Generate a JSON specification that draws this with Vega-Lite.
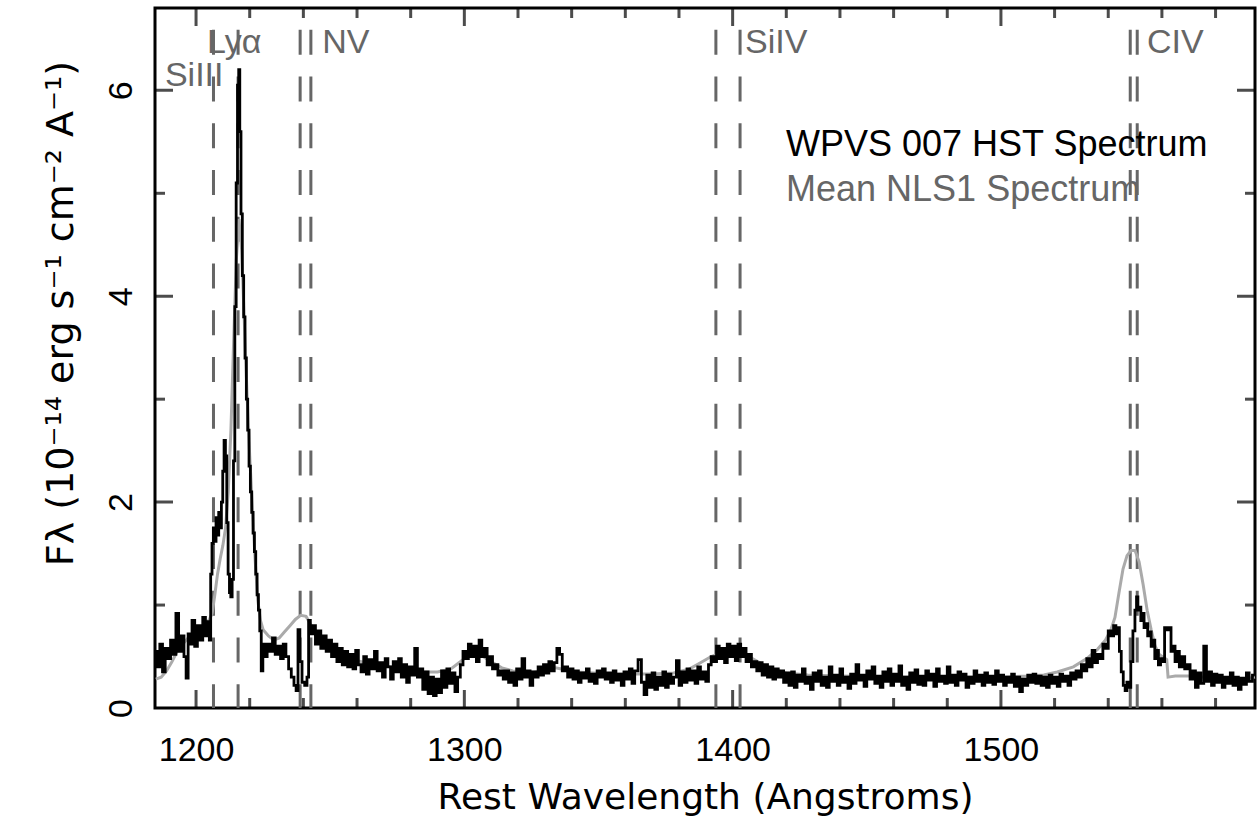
{
  "$schema": "https://vega.github.io/schema/vega-lite/v6.json",
  "width": 1100,
  "height": 700,
  "autosize": "none",
  "padding": {"left": 155, "top": 8, "right": 2, "bottom": 109},
  "background": "white",
  "config": {"view": {"stroke": "black", "strokeWidth": 3}},
  "datasets": {
    "black": [
      {"w":1185,"f":0.55},{"w":1186,"f":0.40},{"w":1187,"f":0.62},{"w":1188,"f":0.35},{"w":1189,"f":0.58},{"w":1190,"f":0.48},{"w":1191,"f":0.66},{"w":1192,"f":0.52},{"w":1193,"f":0.92},{"w":1194,"f":0.55},{"w":1195,"f":0.70},{"w":1196,"f":0.50},{"w":1196.6,"f":0.29},{"w":1197.5,"f":0.72},{"w":1198,"f":0.62},{"w":1199,"f":0.85},{"w":1200,"f":0.60},{"w":1201,"f":0.80},{"w":1202,"f":0.66},{"w":1203,"f":0.88},{"w":1204,"f":0.70},{"w":1204.7,"f":0.84},{"w":1205.2,"f":0.66},{"w":1205.7,"f":1.30},{"w":1206.2,"f":1.60},{"w":1206.7,"f":1.75},{"w":1207.2,"f":1.62},{"w":1207.7,"f":1.85},{"w":1208.2,"f":1.68},{"w":1208.7,"f":1.90},{"w":1209.2,"f":1.75},{"w":1209.7,"f":2.00},{"w":1210.2,"f":2.30},{"w":1210.7,"f":2.60},{"w":1211.2,"f":2.45},{"w":1211.7,"f":1.80},{"w":1212.2,"f":1.30},{"w":1212.7,"f":1.12},{"w":1213.2,"f":1.08},{"w":1213.7,"f":1.25},{"w":1214.2,"f":2.40},{"w":1214.7,"f":3.90},{"w":1215.2,"f":5.10},{"w":1215.7,"f":6.05},{"w":1216.1,"f":6.20},{"w":1216.5,"f":5.60},{"w":1217,"f":4.80},{"w":1217.5,"f":4.20},{"w":1218,"f":3.80},{"w":1218.5,"f":3.40},{"w":1219,"f":3.00},{"w":1219.5,"f":2.70},{"w":1220,"f":2.35},{"w":1220.5,"f":2.10},{"w":1221,"f":1.90},{"w":1221.5,"f":1.70},{"w":1222,"f":1.52},{"w":1222.5,"f":1.30},{"w":1223,"f":1.10},{"w":1223.5,"f":0.95},{"w":1224,"f":0.75},{"w":1224.6,"f":0.36},{"w":1225.2,"f":0.62},{"w":1226,"f":0.50},{"w":1227,"f":0.62},{"w":1228,"f":0.55},{"w":1229,"f":0.68},{"w":1230,"f":0.52},{"w":1231,"f":0.60},{"w":1232,"f":0.48},{"w":1233,"f":0.62},{"w":1234,"f":0.50},{"w":1235,"f":0.38},{"w":1236,"f":0.30},{"w":1237,"f":0.22},{"w":1237.6,"f":0.17},{"w":1238.4,"f":0.76},{"w":1239,"f":0.45},{"w":1240,"f":0.25},{"w":1241,"f":0.22},{"w":1241.7,"f":0.30},{"w":1242.2,"f":0.85},{"w":1243,"f":0.72},{"w":1244,"f":0.80},{"w":1245,"f":0.62},{"w":1246,"f":0.75},{"w":1247,"f":0.58},{"w":1248,"f":0.70},{"w":1249,"f":0.55},{"w":1250,"f":0.66},{"w":1251,"f":0.50},{"w":1252,"f":0.62},{"w":1253,"f":0.45},{"w":1254,"f":0.58},{"w":1255,"f":0.42},{"w":1256,"f":0.55},{"w":1257,"f":0.40},{"w":1258,"f":0.52},{"w":1259,"f":0.38},{"w":1260,"f":0.56},{"w":1261,"f":0.42},{"w":1262,"f":0.35},{"w":1263,"f":0.50},{"w":1264,"f":0.33},{"w":1265,"f":0.47},{"w":1266,"f":0.38},{"w":1267,"f":0.55},{"w":1268,"f":0.36},{"w":1269,"f":0.44},{"w":1270,"f":0.30},{"w":1271,"f":0.48},{"w":1272,"f":0.40},{"w":1273,"f":0.28},{"w":1274,"f":0.45},{"w":1275,"f":0.35},{"w":1276,"f":0.48},{"w":1277,"f":0.30},{"w":1278,"f":0.42},{"w":1279,"f":0.25},{"w":1280,"f":0.40},{"w":1281,"f":0.32},{"w":1282,"f":0.58},{"w":1283,"f":0.30},{"w":1284,"f":0.38},{"w":1285,"f":0.18},{"w":1286,"f":0.35},{"w":1287,"f":0.14},{"w":1288,"f":0.30},{"w":1289,"f":0.12},{"w":1290,"f":0.28},{"w":1291,"f":0.15},{"w":1292,"f":0.36},{"w":1293,"f":0.20},{"w":1294,"f":0.38},{"w":1295,"f":0.24},{"w":1296,"f":0.34},{"w":1297,"f":0.16},{"w":1298,"f":0.30},{"w":1299,"f":0.42},{"w":1300,"f":0.55},{"w":1301,"f":0.48},{"w":1302,"f":0.62},{"w":1303,"f":0.50},{"w":1304,"f":0.60},{"w":1305,"f":0.45},{"w":1306,"f":0.66},{"w":1307,"f":0.50},{"w":1308,"f":0.58},{"w":1309,"f":0.42},{"w":1310,"f":0.50},{"w":1311,"f":0.38},{"w":1312,"f":0.42},{"w":1313,"f":0.32},{"w":1314,"f":0.36},{"w":1315,"f":0.28},{"w":1316,"f":0.36},{"w":1317,"f":0.25},{"w":1318,"f":0.34},{"w":1319,"f":0.22},{"w":1320,"f":0.38},{"w":1321,"f":0.28},{"w":1322,"f":0.48},{"w":1323,"f":0.30},{"w":1324,"f":0.36},{"w":1325,"f":0.22},{"w":1326,"f":0.35},{"w":1327,"f":0.30},{"w":1328,"f":0.40},{"w":1329,"f":0.32},{"w":1330,"f":0.42},{"w":1331,"f":0.34},{"w":1332,"f":0.45},{"w":1333,"f":0.36},{"w":1334,"f":0.44},{"w":1335,"f":0.58},{"w":1336,"f":0.52},{"w":1337,"f":0.36},{"w":1338,"f":0.40},{"w":1339,"f":0.30},{"w":1340,"f":0.38},{"w":1341,"f":0.28},{"w":1342,"f":0.36},{"w":1343,"f":0.25},{"w":1344,"f":0.34},{"w":1345,"f":0.29},{"w":1346,"f":0.38},{"w":1347,"f":0.26},{"w":1348,"f":0.33},{"w":1349,"f":0.24},{"w":1350,"f":0.36},{"w":1351,"f":0.30},{"w":1352,"f":0.38},{"w":1353,"f":0.28},{"w":1354,"f":0.34},{"w":1355,"f":0.25},{"w":1356,"f":0.36},{"w":1357,"f":0.27},{"w":1358,"f":0.33},{"w":1359,"f":0.22},{"w":1360,"f":0.35},{"w":1361,"f":0.28},{"w":1362,"f":0.38},{"w":1363,"f":0.24},{"w":1364,"f":0.36},{"w":1365.5,"f":0.47},{"w":1366.5,"f":0.25},{"w":1367.5,"f":0.13},{"w":1368.5,"f":0.32},{"w":1369.5,"f":0.20},{"w":1370.5,"f":0.34},{"w":1371.5,"f":0.18},{"w":1372.5,"f":0.30},{"w":1373.5,"f":0.22},{"w":1374.5,"f":0.35},{"w":1375.5,"f":0.20},{"w":1376.5,"f":0.33},{"w":1377.5,"f":0.24},{"w":1378.5,"f":0.30},{"w":1379.6,"f":0.46},{"w":1380.5,"f":0.22},{"w":1381.5,"f":0.35},{"w":1382.5,"f":0.25},{"w":1383.5,"f":0.38},{"w":1384.5,"f":0.27},{"w":1385.5,"f":0.36},{"w":1386.5,"f":0.24},{"w":1387.5,"f":0.40},{"w":1388.5,"f":0.28},{"w":1389.5,"f":0.35},{"w":1390.5,"f":0.26},{"w":1391.5,"f":0.42},{"w":1392.5,"f":0.50},{"w":1393.5,"f":0.45},{"w":1394.5,"f":0.60},{"w":1395.5,"f":0.48},{"w":1396.5,"f":0.58},{"w":1397.5,"f":0.44},{"w":1398.5,"f":0.62},{"w":1399.5,"f":0.50},{"w":1400.5,"f":0.60},{"w":1401.5,"f":0.46},{"w":1402.5,"f":0.62},{"w":1403.5,"f":0.50},{"w":1404.5,"f":0.58},{"w":1405.5,"f":0.45},{"w":1406.5,"f":0.52},{"w":1407.5,"f":0.40},{"w":1408.5,"f":0.45},{"w":1409.5,"f":0.36},{"w":1410.5,"f":0.44},{"w":1411.5,"f":0.32},{"w":1412.5,"f":0.42},{"w":1413.5,"f":0.30},{"w":1414.5,"f":0.40},{"w":1415.5,"f":0.28},{"w":1416.5,"f":0.38},{"w":1417.5,"f":0.30},{"w":1418.5,"f":0.36},{"w":1419.5,"f":0.25},{"w":1420.5,"f":0.34},{"w":1421.5,"f":0.22},{"w":1422.5,"f":0.35},{"w":1423.5,"f":0.20},{"w":1424.5,"f":0.32},{"w":1425.5,"f":0.26},{"w":1426.5,"f":0.38},{"w":1427.5,"f":0.24},{"w":1428.5,"f":0.30},{"w":1429.5,"f":0.18},{"w":1430.5,"f":0.34},{"w":1431.5,"f":0.26},{"w":1432.5,"f":0.36},{"w":1433.5,"f":0.22},{"w":1434.5,"f":0.30},{"w":1435.5,"f":0.20},{"w":1436.5,"f":0.40},{"w":1437.5,"f":0.26},{"w":1438.5,"f":0.32},{"w":1439.5,"f":0.22},{"w":1440.5,"f":0.38},{"w":1441.5,"f":0.25},{"w":1442.5,"f":0.30},{"w":1443.5,"f":0.19},{"w":1444.5,"f":0.33},{"w":1445.5,"f":0.24},{"w":1446.5,"f":0.42},{"w":1447.5,"f":0.27},{"w":1448.5,"f":0.32},{"w":1449.5,"f":0.21},{"w":1450.5,"f":0.36},{"w":1451.5,"f":0.28},{"w":1452.5,"f":0.40},{"w":1453.5,"f":0.24},{"w":1454.5,"f":0.31},{"w":1455.5,"f":0.20},{"w":1456.5,"f":0.35},{"w":1457.5,"f":0.26},{"w":1458.5,"f":0.38},{"w":1459.5,"f":0.22},{"w":1460.5,"f":0.33},{"w":1461.5,"f":0.26},{"w":1462.5,"f":0.41},{"w":1463.5,"f":0.22},{"w":1464.5,"f":0.30},{"w":1465.5,"f":0.18},{"w":1466.5,"f":0.34},{"w":1467.5,"f":0.25},{"w":1468.5,"f":0.37},{"w":1469.5,"f":0.23},{"w":1470.5,"f":0.31},{"w":1471.5,"f":0.22},{"w":1472.5,"f":0.36},{"w":1473.5,"f":0.27},{"w":1474.5,"f":0.33},{"w":1475.5,"f":0.21},{"w":1476.5,"f":0.38},{"w":1477.5,"f":0.26},{"w":1478.5,"f":0.31},{"w":1479.5,"f":0.24},{"w":1480.5,"f":0.40},{"w":1481.5,"f":0.25},{"w":1482.5,"f":0.32},{"w":1483.5,"f":0.22},{"w":1484.5,"f":0.35},{"w":1485.5,"f":0.27},{"w":1486.5,"f":0.33},{"w":1487.5,"f":0.20},{"w":1488.5,"f":0.30},{"w":1489.5,"f":0.24},{"w":1490.5,"f":0.36},{"w":1491.5,"f":0.26},{"w":1492.5,"f":0.32},{"w":1493.5,"f":0.22},{"w":1494.5,"f":0.34},{"w":1495.5,"f":0.25},{"w":1496.5,"f":0.31},{"w":1497.5,"f":0.23},{"w":1498.5,"f":0.36},{"w":1499.5,"f":0.26},{"w":1500.5,"f":0.32},{"w":1501.5,"f":0.22},{"w":1502.5,"f":0.30},{"w":1503.5,"f":0.25},{"w":1504.5,"f":0.33},{"w":1505.5,"f":0.21},{"w":1506.5,"f":0.30},{"w":1507.5,"f":0.16},{"w":1508.5,"f":0.28},{"w":1509.5,"f":0.22},{"w":1510.5,"f":0.32},{"w":1511.5,"f":0.25},{"w":1512.5,"f":0.33},{"w":1513.5,"f":0.24},{"w":1514.5,"f":0.31},{"w":1515.5,"f":0.22},{"w":1516.5,"f":0.30},{"w":1517.5,"f":0.20},{"w":1518.5,"f":0.32},{"w":1519.5,"f":0.24},{"w":1520.5,"f":0.30},{"w":1521.5,"f":0.21},{"w":1522.5,"f":0.33},{"w":1523.5,"f":0.26},{"w":1524.5,"f":0.31},{"w":1525.5,"f":0.22},{"w":1526.5,"f":0.34},{"w":1527.5,"f":0.28},{"w":1528.5,"f":0.36},{"w":1529.5,"f":0.30},{"w":1530.5,"f":0.42},{"w":1531.5,"f":0.36},{"w":1532.5,"f":0.48},{"w":1533.5,"f":0.40},{"w":1534.5,"f":0.56},{"w":1535.5,"f":0.44},{"w":1536.5,"f":0.52},{"w":1537.5,"f":0.48},{"w":1538.5,"f":0.62},{"w":1539.5,"f":0.58},{"w":1540.5,"f":0.75},{"w":1541.5,"f":0.70},{"w":1542.5,"f":0.80},{"w":1543.2,"f":0.72},{"w":1543.8,"f":0.78},{"w":1544.5,"f":0.55},{"w":1545.2,"f":0.35},{"w":1546,"f":0.22},{"w":1546.6,"f":0.17},{"w":1547.3,"f":0.25},{"w":1548,"f":0.20},{"w":1548.8,"f":0.45},{"w":1549.6,"f":0.75},{"w":1550.3,"f":0.95},{"w":1550.8,"f":1.08},{"w":1551.3,"f":0.95},{"w":1551.8,"f":0.98},{"w":1552.5,"f":0.85},{"w":1553,"f":0.92},{"w":1553.7,"f":0.78},{"w":1554.4,"f":0.82},{"w":1555,"f":0.70},{"w":1555.7,"f":0.74},{"w":1556.3,"f":0.60},{"w":1557,"f":0.66},{"w":1557.7,"f":0.48},{"w":1558.4,"f":0.56},{"w":1559,"f":0.42},{"w":1560,"f":0.48},{"w":1560.8,"f":0.45},{"w":1561.2,"f":0.78},{"w":1562,"f":0.76},{"w":1563,"f":0.78},{"w":1563.8,"f":0.55},{"w":1564.5,"f":0.60},{"w":1565.3,"f":0.45},{"w":1566,"f":0.55},{"w":1567,"f":0.40},{"w":1568,"f":0.50},{"w":1569,"f":0.38},{"w":1570,"f":0.42},{"w":1571,"f":0.28},{"w":1572,"f":0.36},{"w":1573,"f":0.20},{"w":1574,"f":0.34},{"w":1575,"f":0.24},{"w":1576.2,"f":0.60},{"w":1577,"f":0.26},{"w":1578,"f":0.35},{"w":1579,"f":0.22},{"w":1580,"f":0.33},{"w":1581,"f":0.25},{"w":1582,"f":0.32},{"w":1583,"f":0.20},{"w":1584,"f":0.30},{"w":1585,"f":0.24},{"w":1586,"f":0.34},{"w":1587,"f":0.22},{"w":1588,"f":0.30},{"w":1589,"f":0.18},{"w":1590,"f":0.29},{"w":1591,"f":0.23},{"w":1592,"f":0.34},{"w":1593,"f":0.26},{"w":1594.5,"f":0.32}
    ],
    "gray": [
      {"w":1185,"f":0.28},{"w":1187,"f":0.30},{"w":1189,"f":0.36},{"w":1191,"f":0.45},{"w":1193,"f":0.55},{"w":1195,"f":0.62},{"w":1197,"f":0.68},{"w":1199,"f":0.72},{"w":1201,"f":0.76},{"w":1203,"f":0.80},{"w":1205,"f":0.86},{"w":1206,"f":0.92},{"w":1207,"f":1.10},{"w":1208,"f":1.30},{"w":1209,"f":1.45},{"w":1210,"f":1.58},{"w":1211,"f":1.75},{"w":1212,"f":2.10},{"w":1213,"f":2.70},{"w":1214,"f":3.55},{"w":1215,"f":4.35},{"w":1216,"f":4.75},{"w":1217,"f":4.45},{"w":1218,"f":3.75},{"w":1219,"f":3.05},{"w":1220,"f":2.45},{"w":1221,"f":1.95},{"w":1222,"f":1.45},{"w":1223,"f":1.05},{"w":1224,"f":0.85},{"w":1225,"f":0.76},{"w":1227,"f":0.70},{"w":1229,"f":0.66},{"w":1231,"f":0.68},{"w":1233,"f":0.74},{"w":1235,"f":0.80},{"w":1237,"f":0.86},{"w":1239,"f":0.90},{"w":1241,"f":0.89},{"w":1243,"f":0.80},{"w":1245,"f":0.72},{"w":1248,"f":0.63},{"w":1252,"f":0.56},{"w":1256,"f":0.50},{"w":1260,"f":0.46},{"w":1265,"f":0.43},{"w":1270,"f":0.41},{"w":1275,"f":0.39},{"w":1280,"f":0.37},{"w":1285,"f":0.35},{"w":1290,"f":0.35},{"w":1295,"f":0.38},{"w":1298,"f":0.44},{"w":1301,"f":0.50},{"w":1304,"f":0.52},{"w":1307,"f":0.50},{"w":1310,"f":0.45},{"w":1314,"f":0.39},{"w":1318,"f":0.36},{"w":1322,"f":0.35},{"w":1326,"f":0.35},{"w":1330,"f":0.37},{"w":1334,"f":0.39},{"w":1338,"f":0.37},{"w":1342,"f":0.35},{"w":1348,"f":0.34},{"w":1355,"f":0.33},{"w":1362,"f":0.33},{"w":1370,"f":0.33},{"w":1378,"f":0.34},{"w":1384,"f":0.38},{"w":1388,"f":0.44},{"w":1392,"f":0.50},{"w":1396,"f":0.54},{"w":1400,"f":0.56},{"w":1404,"f":0.53},{"w":1408,"f":0.47},{"w":1412,"f":0.41},{"w":1416,"f":0.37},{"w":1420,"f":0.34},{"w":1428,"f":0.32},{"w":1440,"f":0.31},{"w":1460,"f":0.30},{"w":1480,"f":0.30},{"w":1500,"f":0.30},{"w":1510,"f":0.31},{"w":1516,"f":0.32},{"w":1521,"f":0.35},{"w":1527,"f":0.40},{"w":1532,"f":0.48},{"w":1536,"f":0.57},{"w":1539,"f":0.66},{"w":1541,"f":0.76},{"w":1542.5,"f":0.88},{"w":1544,"f":1.12},{"w":1545.5,"f":1.35},{"w":1547,"f":1.48},{"w":1548.5,"f":1.53},{"w":1550,"f":1.53},{"w":1551.5,"f":1.42},{"w":1553,"f":1.20},{"w":1554.5,"f":0.95},{"w":1556,"f":0.76},{"w":1557.5,"f":0.60},{"w":1559,"f":0.52},{"w":1561.8,"f":0.47},{"w":1562.3,"f":0.30},{"w":1565,"f":0.31},{"w":1570,"f":0.31},{"w":1575,"f":0.30},{"w":1580,"f":0.29},{"w":1585,"f":0.28},{"w":1590,"f":0.28},{"w":1594.7,"f":0.30}
    ],
    "lines": [
      {"w":1206.5},{"w":1215.67},{"w":1238.8},{"w":1242.8},{"w":1393.76},{"w":1402.77},{"w":1548.2},{"w":1550.8}
    ],
    "labels": [
      {"w":1188.4,"f":6.04,"t":"SiIII"},{"w":1204.1,"f":6.36,"t":"Lyα"},{"w":1247.0,"f":6.36,"t":"NV"},{"w":1404.6,"f":6.36,"t":"SiIV"},{"w":1554.4,"f":6.36,"t":"CIV"}
    ],
    "legend": [
      {"w":1419.9,"f":5.36,"t":"WPVS 007 HST Spectrum","s":"hst"},{"w":1419.9,"f":4.93,"t":"Mean NLS1 Spectrum","s":"mean"}
    ],
    "xticks": [
      {"w":1200,"k":"major"},{"w":1220,"k":"minor"},{"w":1240,"k":"minor"},{"w":1260,"k":"minor"},{"w":1280,"k":"minor"},{"w":1300,"k":"major"},{"w":1320,"k":"minor"},{"w":1340,"k":"minor"},{"w":1360,"k":"minor"},{"w":1380,"k":"minor"},{"w":1400,"k":"major"},{"w":1420,"k":"minor"},{"w":1440,"k":"minor"},{"w":1460,"k":"minor"},{"w":1480,"k":"minor"},{"w":1500,"k":"major"},{"w":1520,"k":"minor"},{"w":1540,"k":"minor"},{"w":1560,"k":"minor"},{"w":1580,"k":"minor"}
    ],
    "yticks": [
      {"f":1,"k":"minor"},{"f":2,"k":"major"},{"f":3,"k":"minor"},{"f":4,"k":"major"},{"f":5,"k":"minor"},{"f":6,"k":"major"}
    ]
  },
  "resolve": {"axis": {"x": "independent", "y": "independent"}},
  "layer": [
    {
      "data": {"name": "lines"},
      "mark": {"type": "rule", "color": "#666666", "strokeWidth": 3, "strokeDash": [25, 21.75], "strokeDashOffset": 25},
      "encoding": {
        "x": {"field": "w", "type": "quantitative", "scale": {"domain": [1184.7, 1594.7], "nice": false, "zero": false}, "axis": null}
      }
    },
    {
      "data": {"name": "gray"},
      "mark": {"type": "line", "color": "#aaaaaa", "strokeWidth": 3},
      "encoding": {
        "x": {"field": "w", "type": "quantitative", "scale": {"domain": [1184.7, 1594.7], "nice": false, "zero": false},
          "axis": {"orient": "bottom", "values": [1200,1300,1400,1500],
            "format": "d", "ticks": false, "tickSize": 0, "domain": false, "grid": false, "labelFlush": false,
            "labelFont": "Liberation Sans Narrow, Liberation Sans", "labelFontSize": 34, "labelColor": "black", "labelBaseline": "alphabetic", "labelPadding": 52,
            "title": "Rest Wavelength (Angstroms)", "titleFont": "DejaVu Sans", "titleFontSize": 36, "titleFontWeight": "normal", "titleColor": "black",
            "titleX": 550, "titleY": 100, "titleAlign": "center", "titleBaseline": "alphabetic"}},
        "y": {"field": "f", "type": "quantitative", "scale": {"domain": [0, 6.8], "nice": false, "zero": false},
          "axis": {"orient": "left", "values": [0,2,4,6],
            "ticks": false, "tickSize": 0, "domain": false, "grid": false, "labelFlush": false,
            "labelFont": "Liberation Sans Narrow, Liberation Sans", "labelFontSize": 34, "labelColor": "black", "labelAngle": -90, "labelAlign": "center", "labelBaseline": "alphabetic", "labelPadding": 24,
            "title": "Fλ (10⁻¹⁴ erg s⁻¹ cm⁻² A⁻¹)", "titleFont": "DejaVu Sans", "titleFontSize": 38, "titleFontWeight": "normal", "titleColor": "black",
            "titleAngle": -90, "titleX": -83, "titleY": 305, "titleAlign": "center", "titleBaseline": "alphabetic"}}
      }
    },
    {
      "data": {"name": "black"},
      "mark": {"type": "line", "color": "#000000", "strokeWidth": 2.8, "interpolate": "step"},
      "encoding": {
        "x": {"field": "w", "type": "quantitative", "axis": null},
        "y": {"field": "f", "type": "quantitative", "axis": null}
      }
    },
    {
      "data": {"name": "xticks"},
      "mark": {"type": "tick", "orient": "vertical", "thickness": 3, "color": "black", "clip": true},
      "encoding": {
        "x": {"field": "w", "type": "quantitative", "axis": null},
        "y": {"datum": 0, "type": "quantitative", "axis": null},
        "size": {"field": "k", "type": "nominal", "scale": {"domain": ["major", "minor"], "range": [36, 20]}, "legend": null}
      }
    },
    {
      "data": {"name": "xticks"},
      "mark": {"type": "tick", "orient": "vertical", "thickness": 3, "color": "black", "clip": true},
      "encoding": {
        "x": {"field": "w", "type": "quantitative", "axis": null},
        "y": {"datum": 6.8, "type": "quantitative", "axis": null},
        "size": {"field": "k", "type": "nominal", "scale": {"domain": ["major", "minor"], "range": [36, 20]}, "legend": null}
      }
    },
    {
      "data": {"name": "yticks"},
      "mark": {"type": "tick", "orient": "horizontal", "thickness": 3, "color": "black", "clip": true},
      "encoding": {
        "y": {"field": "f", "type": "quantitative", "axis": null},
        "x": {"datum": 1184.7, "type": "quantitative", "axis": null},
        "size": {"field": "k", "type": "nominal", "scale": {"domain": ["major", "minor"], "range": [36, 20]}, "legend": null}
      }
    },
    {
      "data": {"name": "yticks"},
      "mark": {"type": "tick", "orient": "horizontal", "thickness": 3, "color": "black", "clip": true},
      "encoding": {
        "y": {"field": "f", "type": "quantitative", "axis": null},
        "x": {"datum": 1594.7, "type": "quantitative", "axis": null},
        "size": {"field": "k", "type": "nominal", "scale": {"domain": ["major", "minor"], "range": [36, 20]}, "legend": null}
      }
    },
    {
      "data": {"name": "labels"},
      "mark": {"type": "text", "align": "left", "baseline": "alphabetic", "font": "Liberation Sans", "fontSize": 34, "color": "#666666"},
      "encoding": {
        "x": {"field": "w", "type": "quantitative", "axis": null},
        "y": {"field": "f", "type": "quantitative", "axis": null},
        "text": {"field": "t"}
      }
    },
    {
      "data": {"name": "legend"},
      "mark": {"type": "text", "align": "left", "baseline": "alphabetic", "font": "Liberation Sans", "fontSize": 36},
      "encoding": {
        "x": {"field": "w", "type": "quantitative", "axis": null},
        "y": {"field": "f", "type": "quantitative", "axis": null},
        "text": {"field": "t"},
        "color": {"field": "s", "type": "nominal", "scale": {"domain": ["hst", "mean"], "range": ["#000000", "#666666"]}, "legend": null}
      }
    }
  ]
}
